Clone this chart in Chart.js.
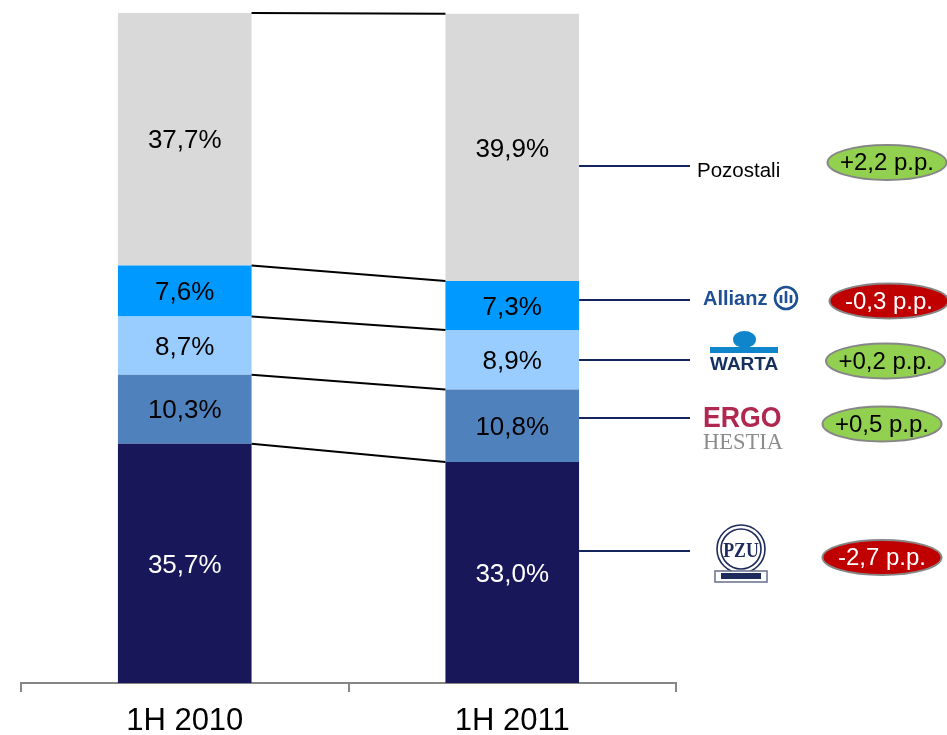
<!DOCTYPE html>
<html><head><meta charset="utf-8">
<style>html,body{margin:0;padding:0;background:#fff}canvas{display:block}</style>
<script src="https://cdn.jsdelivr.net/npm/chart.js@4/dist/chart.umd.min.js"></script>
</head><body>
<canvas id="c" width="947" height="735"></canvas>
<script>
const categories = ['1H 2010', '1H 2011'];
const pzu = [35.7, 33.0];
const ergoHestia = [10.3, 10.8];
const warta = [8.7, 8.9];
const allianz = [7.6, 7.3];
const pozostali = [37.7, 39.9];
const changes = ['+2,2 p.p.', '-0,3 p.p.', '+0,2 p.p.', '+0,5 p.p.', '-2,7 p.p.'];

const SANS = '"Liberation Sans", Arial, sans-serif';
const SERIF = '"Liberation Serif", serif';
const fmt = v => v.toFixed(1).replace('.', ',') + '%';

const squeezed = (ctx, text, x, y, sx) => {
  ctx.save(); ctx.translate(x, y); ctx.scale(sx, 1); ctx.fillText(text, 0, 0); ctx.restore();
};

const overlay = {
  id: 'overlay',
  afterDatasetsDraw(chart) {
    const { ctx, scales: { y } } = chart;
    const m0 = chart.getDatasetMeta(0).data;
    // connecting lines between the stack boundaries
    ctx.save();
    ctx.strokeStyle = '#000'; ctx.lineWidth = 2;
    const sum = [0, 0];
    chart.data.datasets.forEach(ds => {
      sum[0] += ds.data[0]; sum[1] += ds.data[1];
      ctx.beginPath();
      ctx.moveTo(m0[0].x + m0[0].width / 2, y.getPixelForValue(sum[0]));
      ctx.lineTo(m0[1].x - m0[1].width / 2, y.getPixelForValue(sum[1]));
      ctx.stroke();
    });
    // value labels
    ctx.textAlign = 'center'; ctx.textBaseline = 'middle';
    ctx.font = '26px ' + SANS;
    chart.data.datasets.forEach((ds, i) => {
      chart.getDatasetMeta(i).data.forEach((bar, j) => {
        const p = bar.getProps(['x', 'y', 'base'], true);
        ctx.fillStyle = i === 0 ? '#fff' : '#000';
        ctx.fillText(fmt(ds.data[j]), p.x, (p.y + p.base) / 2 + 2);
      });
    });
    // leader lines
    ctx.strokeStyle = '#14245c'; ctx.lineWidth = 2;
    [166, 300, 360, 418, 551].forEach(py => {
      ctx.beginPath(); ctx.moveTo(m0[1].x + m0[1].width / 2, py); ctx.lineTo(690, py); ctx.stroke();
    });
    // series names / logos
    ctx.textAlign = 'left'; ctx.textBaseline = 'alphabetic';
    ctx.fillStyle = '#000'; ctx.font = '20.5px ' + SANS;
    ctx.fillText('Pozostali', 697, 177);
    // Allianz
    ctx.fillStyle = '#1c4f94'; ctx.font = 'bold 20px ' + SANS;
    ctx.fillText('Allianz', 703, 305);
    ctx.strokeStyle = '#1c4f94'; ctx.lineWidth = 2.6;
    ctx.beginPath(); ctx.arc(786, 298, 11, 0, 7); ctx.stroke();
    ctx.lineWidth = 2.6;
    [[781, 295, 303], [786, 291, 303], [791, 295, 303]].forEach(b => {
      ctx.beginPath(); ctx.moveTo(b[0], b[1]); ctx.lineTo(b[0], b[2]); ctx.stroke();
    });
    // WARTA
    ctx.fillStyle = '#0f86cc';
    ctx.beginPath(); ctx.ellipse(744.5, 339.5, 11.5, 8.5, 0, 0, 7); ctx.fill();
    ctx.fillRect(710, 347, 68, 6);
    ctx.fillStyle = '#14305f'; ctx.font = 'bold 19px ' + SANS;
    ctx.fillText('WARTA', 710, 370);
    // ERGO HESTIA
    ctx.fillStyle = '#b0274f'; ctx.font = 'bold 29px ' + SANS;
    squeezed(ctx, 'ERGO', 703, 427, 0.92);
    ctx.fillStyle = '#8c8c8c'; ctx.font = '23px ' + SERIF;
    squeezed(ctx, 'HESTIA', 703, 449, 0.98);
    // PZU
    ctx.strokeStyle = '#1f2a5c'; ctx.lineWidth = 1.6;
    ctx.beginPath(); ctx.arc(741, 549, 24, 0, 7); ctx.stroke();
    ctx.beginPath(); ctx.arc(741, 549, 20, 0, 7); ctx.stroke();
    ctx.fillStyle = '#1f2a5c'; ctx.font = 'bold 21px ' + SERIF; ctx.textAlign = 'center';
    squeezed(ctx, 'PZU', 741, 557, 0.85);
    ctx.fillStyle = '#fff'; ctx.fillRect(715, 571, 52, 11);
    ctx.strokeStyle = '#6f7690'; ctx.strokeRect(715, 571, 52, 11);
    ctx.fillStyle = '#1f2a5c'; ctx.fillRect(721, 573, 40, 6);
    // change pills
    const pills = [[887, 162.5], [889, 301], [885.5, 361], [882, 424], [882, 557.5]];
    ctx.font = '24px ' + SANS; ctx.textBaseline = 'middle';
    changes.forEach((t, i) => {
      const up = t[0] === '+';
      ctx.beginPath(); ctx.ellipse(pills[i][0], pills[i][1], 59.5, 17.5, 0, 0, 7);
      ctx.fillStyle = up ? '#92D050' : '#C00000'; ctx.fill();
      ctx.strokeStyle = '#868686'; ctx.lineWidth = 2; ctx.stroke();
      ctx.fillStyle = up ? '#000' : '#fff';
      ctx.fillText(t, pills[i][0], pills[i][1] + 1);
    });
    ctx.restore();
  }
};

const mk = (label, data, color) => ({ label, data, backgroundColor: color, borderWidth: 0, barPercentage: 0.408, categoryPercentage: 1, stack: 's' });

new Chart(document.getElementById('c'), {
  type: 'bar',
  data: {
    labels: categories,
    datasets: [
      mk('PZU', pzu, '#171759'),
      mk('Ergo Hestia', ergoHestia, '#4F81BD'),
      mk('Warta', warta, '#99CCFF'),
      mk('Allianz', allianz, '#0099FF'),
      mk('Pozostali', pozostali, '#D9D9D9')
    ]
  },
  options: {
    responsive: false, animation: false,
    layout: { padding: { left: 21, right: 271, top: 13, bottom: 0 } },
    plugins: { legend: { display: false }, tooltip: { enabled: false } },
    scales: {
      x: {
        stacked: true,
        afterFit(s) { s.height = 52; },
        border: { color: '#868686', width: 2 },
        grid: { offset: true, drawOnChartArea: false, color: '#868686', lineWidth: 2, tickLength: 9 },
        ticks: { color: '#000', font: { family: SANS, size: 31 }, padding: 11, maxRotation: 0 }
      },
      y: { stacked: true, display: false, min: 0, max: 100 }
    }
  },
  plugins: [overlay]
});
</script>
</body></html>
